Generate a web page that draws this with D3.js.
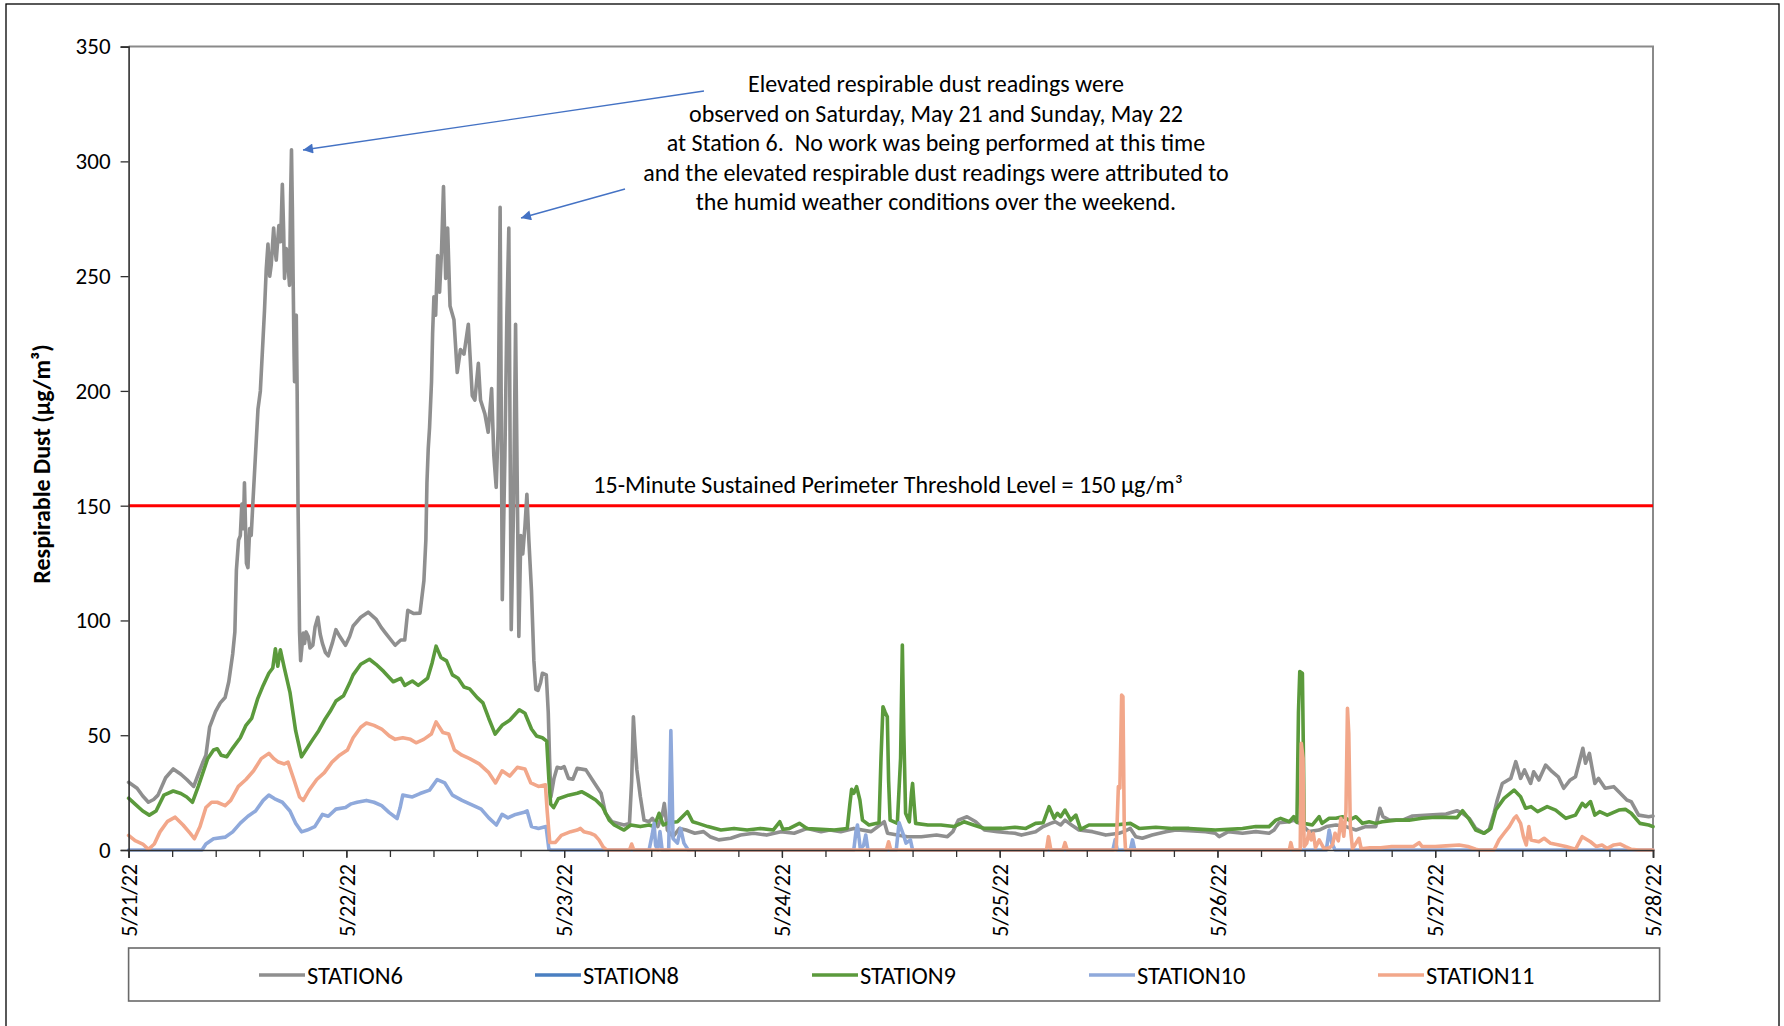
<!DOCTYPE html>
<html>
<head>
<meta charset="utf-8">
<script src="https://cdn.jsdelivr.net/npm/d3@7"></script>
<style>
  html, body { margin: 0; padding: 0; background: #fff; }
  svg { display: block; }
  text { font-family: Carlito, Lato, "Liberation Sans", sans-serif; fill: #000; white-space: pre; }
</style>
</head>
<body>
<svg id="chart" width="1784" height="1026"></svg>
<script>
// ---- DATA (time in days since 5/21/22 00:00, value in µg/m³) ----
const dayLabels = ["5/21/22","5/22/22","5/23/22","5/24/22","5/25/22","5/26/22","5/27/22","5/28/22"];
const yTicks = [0, 50, 100, 150, 200, 250, 300, 350];
const threshold = 150;
const seriesNames = ["STATION6","STATION8","STATION9","STATION10","STATION11"];
const seriesColors = ["#8f8f8f","#4a7fc1","#5b9a3c","#8fa9db","#f2a78a"];
const annotationLines = [
  "Elevated respirable dust readings were",
  "observed on Saturday, May 21 and Sunday, May 22",
  "at Station 6.  No work was being performed at this time",
  "and the elevated respirable dust readings were attributed to",
  "the humid weather conditions over the weekend."
];
const thresholdLabel = "15-Minute Sustained Perimeter Threshold Level = 150 µg/m³";
const yTitle = "Respirable Dust (µg/m³)";

const station6 = [[0,29.5],[0.039,26.9],[0.065,23.5],[0.091,20.8],[0.115,22],[0.135,23.9],[0.17,31.5],[0.205,35.3],[0.24,33],[0.267,30.7],[0.299,27.7],[0.32,33],[0.34,38],[0.355,41.3],[0.372,53.5],[0.399,60.3],[0.421,64.1],[0.443,66.4],[0.46,73.3],[0.478,85.4],[0.488,95],[0.495,121.9],[0.505,135],[0.513,137],[0.52,150.7],[0.527,140],[0.532,160],[0.541,125],[0.548,123],[0.556,140],[0.563,137],[0.57,150],[0.578,164],[0.594,192],[0.605,200],[0.617,222],[0.624,235],[0.632,253],[0.64,264],[0.648,250],[0.655,255],[0.666,271],[0.672,262],[0.678,257],[0.69,272],[0.698,265],[0.706,290],[0.712,270],[0.716,249],[0.724,262],[0.732,255],[0.739,246],[0.744,285],[0.748,305],[0.752,280],[0.755,253],[0.76,215],[0.762,204],[0.766,230],[0.77,233],[0.774,200],[0.778,151],[0.785,95],[0.79,82.5],[0.802,94.5],[0.808,90],[0.815,95],[0.825,93],[0.833,88],[0.846,89.2],[0.856,97],[0.869,101.4],[0.88,94],[0.89,90],[0.904,86],[0.917,84.6],[0.935,90],[0.952,96],[0.97,93],[0.996,89.2],[1.015,93],[1.031,97.6],[1.066,101.4],[1.1,103.6],[1.136,100.6],[1.16,97],[1.18,94.5],[1.224,89.2],[1.25,91.5],[1.268,91.5],[1.282,104.4],[1.31,103],[1.338,103.2],[1.356,117.3],[1.365,135],[1.37,160],[1.376,175],[1.382,184],[1.391,204],[1.396,225],[1.402,241],[1.41,233],[1.419,259],[1.428,243],[1.437,261],[1.446,289],[1.456,249],[1.465,271],[1.476,237],[1.494,231],[1.509,208],[1.524,218],[1.54,216],[1.56,229],[1.578,198],[1.59,196],[1.606,212],[1.616,196],[1.636,190],[1.651,182],[1.667,201],[1.677,172],[1.688,158],[1.697,184],[1.706,280],[1.716,109],[1.728,172],[1.737,233],[1.746,271],[1.757,96],[1.768,151],[1.777,229],[1.792,93],[1.801,137],[1.81,129],[1.82,141],[1.829,155],[1.838,135],[1.85,113],[1.861,82.5],[1.87,70],[1.88,69.5],[1.892,73],[1.9,77],[1.918,76.3],[1.927,60],[1.933,40],[1.939,23.1],[1.953,31],[1.968,36],[1.985,35.6],[2.0,36.3],[2.02,31.2],[2.04,30.8],[2.06,35.6],[2.1,34.9],[2.13,30.5],[2.17,24.7],[2.19,16],[2.22,12.3],[2.275,10.9],[2.30,11.6],[2.31,30],[2.318,58],[2.326,45],[2.334,34.9],[2.35,23.2],[2.367,13],[2.39,12.3],[2.405,13.8],[2.43,10.2],[2.45,15],[2.46,20.3],[2.474,8.7],[2.5,5.8],[2.53,9.4],[2.56,8.7],[2.6,7.3],[2.64,8],[2.67,5.8],[2.71,4.4],[2.765,5.1],[2.81,6.5],[2.87,7.3],[2.93,6.5],[2.995,8],[3.056,7.3],[3.117,9.4],[3.18,8],[3.22,8.7],[3.27,8],[3.33,9.4],[3.41,8],[3.47,12.3],[3.485,7.3],[3.53,6.5],[3.576,5.8],[3.64,5.8],[3.71,6.5],[3.76,5.8],[3.785,8],[3.81,13],[3.85,14.5],[3.89,12.3],[3.93,8.7],[3.99,8],[4.04,7.5],[4.07,7.3],[4.1,6.5],[4.165,8],[4.2,10.2],[4.234,11.6],[4.255,12.3],[4.28,10.9],[4.3,13],[4.33,10.9],[4.364,8.7],[4.426,8],[4.487,6.5],[4.548,7.3],[4.57,8],[4.6,9.4],[4.625,5.8],[4.655,5.1],[4.7,6.5],[4.763,8],[4.81,8.7],[4.87,8.4],[4.946,8],[4.99,7.3],[5.008,5.8],[5.05,8],[5.115,7.3],[5.176,8],[5.237,7.3],[5.26,8.7],[5.283,11.9],[5.33,12.3],[5.35,13],[5.39,10.9],[5.42,8],[5.467,8.7],[5.5,10.2],[5.544,10.9],[5.59,10.2],[5.636,8.7],[5.68,10.2],[5.727,10.2],[5.746,18.2],[5.76,14.5],[5.79,13],[5.85,13],[5.896,14.8],[5.97,15.2],[6.05,15.7],[6.1,17.1],[6.125,16],[6.156,13.8],[6.186,9.4],[6.224,7.3],[6.247,8.7],[6.27,16],[6.285,21.8],[6.308,29],[6.347,31.2],[6.37,38.5],[6.392,31.2],[6.41,34.9],[6.438,29],[6.452,34.1],[6.476,30.5],[6.507,37],[6.537,34.1],[6.565,31.9],[6.59,26.9],[6.62,30.5],[6.644,31.9],[6.678,44.3],[6.69,37.8],[6.708,42.1],[6.733,29],[6.75,31.2],[6.78,26.9],[6.82,27.6],[6.843,25.4],[6.88,21.8],[6.9,21.1],[6.934,15.2],[6.98,14.5],[7.0,14.8]];

const station8 = [];

const station9 = [[0,22.6],[0.03,20],[0.065,17],[0.095,15.2],[0.126,17],[0.162,23.9],[0.205,25.7],[0.24,24.6],[0.267,23.1],[0.293,20.8],[0.32,27.7],[0.363,39.8],[0.39,43.6],[0.407,44.1],[0.425,41.3],[0.451,40.6],[0.478,44.4],[0.513,48.9],[0.539,54.3],[0.565,57.3],[0.592,65.7],[0.618,71.7],[0.644,77],[0.662,79.3],[0.674,87.7],[0.685,80.1],[0.697,87.2],[0.715,79.3],[0.741,68.7],[0.767,52],[0.794,40.6],[0.82,44.4],[0.846,48.2],[0.873,52],[0.899,56.5],[0.925,60.3],[0.952,64.9],[0.987,67.2],[1.014,72.5],[1.031,76.3],[1.066,80.9],[1.106,83.1],[1.136,80.9],[1.171,77.8],[1.215,73.3],[1.25,74.8],[1.268,71.7],[1.303,73.6],[1.33,71.7],[1.373,74.8],[1.394,81.6],[1.412,88.8],[1.434,83.9],[1.46,82.4],[1.487,76.3],[1.513,74.8],[1.54,71],[1.566,70.2],[1.601,66.4],[1.627,64.1],[1.654,57.3],[1.683,50.5],[1.715,54.3],[1.75,56.5],[1.794,61.1],[1.82,59.6],[1.85,52.7],[1.873,49.7],[1.9,48.9],[1.92,47.4],[1.93,30.7],[1.938,20],[1.952,18.5],[1.973,22.3],[2.02,23.9],[2.06,24.7],[2.08,25.4],[2.107,24],[2.145,21.8],[2.176,18.9],[2.207,13],[2.23,10.9],[2.275,8.7],[2.306,10.9],[2.35,10.2],[2.39,10.9],[2.413,10.2],[2.436,16],[2.455,10.9],[2.48,11.9],[2.52,12.3],[2.566,16.7],[2.59,12.3],[2.615,11.6],[2.66,10.2],[2.72,8.7],[2.78,9.4],[2.84,8.7],[2.9,9.4],[2.96,8.7],[2.99,12.3],[3.005,9],[3.035,9.4],[3.08,11.6],[3.115,9.4],[3.18,9],[3.24,8.7],[3.3,9.4],[3.312,20],[3.32,26.4],[3.33,24.7],[3.343,27.6],[3.358,21.8],[3.37,13],[3.4,10.9],[3.446,11.9],[3.455,40],[3.464,62.4],[3.474,60],[3.484,58],[3.49,30],[3.497,13],[3.53,11.6],[3.545,40],[3.553,89.3],[3.56,50],[3.568,16],[3.585,12.3],[3.595,25],[3.6,29],[3.607,20],[3.614,11.6],[3.67,10.9],[3.73,10.9],[3.79,10.2],[3.836,12.3],[3.88,10.9],[3.93,9.4],[4.01,9.4],[4.07,9.9],[4.12,9.4],[4.165,11.6],[4.2,11.9],[4.227,18.9],[4.25,13.8],[4.265,16],[4.28,14.5],[4.3,17.4],[4.326,13],[4.35,15.2],[4.372,9],[4.41,10.9],[4.47,10.9],[4.53,10.9],[4.6,11.6],[4.64,9.4],[4.717,9.9],[4.793,9.4],[4.87,9.4],[4.93,9],[4.99,8.7],[5.05,9],[5.115,9.4],[5.176,10.2],[5.237,10.2],[5.268,13],[5.29,13.8],[5.33,12.3],[5.35,14.5],[5.365,12],[5.372,60],[5.378,77.7],[5.39,77],[5.395,40],[5.398,11.6],[5.436,10.9],[5.467,14.5],[5.48,11.6],[5.513,13.8],[5.544,13.8],[5.574,14.5],[5.605,13],[5.636,14.5],[5.666,11.6],[5.697,12.3],[5.727,11.6],[5.757,12.3],[5.82,13],[5.88,13],[5.94,13.8],[6.0,14.3],[6.05,14.2],[6.1,14.1],[6.125,17.1],[6.153,13.8],[6.186,8.7],[6.224,7.3],[6.255,9.4],[6.278,17.4],[6.316,22.5],[6.362,26.1],[6.392,23.2],[6.415,18.2],[6.44,18.9],[6.47,16.7],[6.514,18.9],[6.553,17.4],[6.6,13.8],[6.644,15.2],[6.675,20.3],[6.69,18.9],[6.713,21.1],[6.733,15.2],[6.755,16.7],[6.79,15.2],[6.843,17.4],[6.873,17.7],[6.9,16],[6.94,11.6],[6.98,10.9],[7.0,10.2]];

const station10 = [[0,0],[0.337,0],[0.355,2.6],[0.39,4.9],[0.443,5.6],[0.478,7.9],[0.513,11.7],[0.548,14.7],[0.583,17],[0.618,21.6],[0.644,23.9],[0.671,22.3],[0.706,20.8],[0.741,17],[0.767,11.7],[0.794,7.9],[0.82,8.7],[0.855,10.2],[0.89,15.5],[0.917,14.7],[0.952,17.8],[0.996,18.5],[1.022,20.1],[1.049,20.8],[1.092,21.6],[1.127,20.8],[1.162,19.3],[1.197,16.3],[1.233,13.7],[1.247,18.5],[1.259,23.9],[1.303,23.1],[1.338,24.6],[1.382,26.1],[1.417,30.7],[1.452,29.2],[1.487,23.9],[1.531,21.6],[1.584,19.3],[1.619,17.8],[1.654,14],[1.689,10.9],[1.715,15.5],[1.742,14],[1.777,15.5],[1.812,16.3],[1.83,17],[1.85,10.2],[1.882,9.4],[1.917,10.2],[1.93,0.3],[1.94,0],[2.39,0],[2.405,7],[2.413,11.6],[2.42,2],[2.43,0],[2.44,8],[2.45,0],[2.48,0],[2.486,30],[2.49,52],[2.495,30],[2.5,5],[2.52,3],[2.535,9.4],[2.55,3],[2.57,0],[3.33,0],[3.34,8],[3.347,10.9],[3.36,0.5],[3.375,2],[3.385,6.5],[3.395,0],[3.525,0],[3.538,11.9],[3.545,10],[3.56,6],[3.57,3],[3.59,4.4],[3.6,0],[4.52,0],[4.53,4.4],[4.54,0],[4.6,0],[4.61,4.4],[4.62,0],[5.5,0],[5.513,8.7],[5.525,3],[5.54,0],[7.0,0]];

const station11 = [[0,6.4],[0.03,4.1],[0.065,2.6],[0.091,0.3],[0.118,2.6],[0.144,7.9],[0.179,12.5],[0.214,14.3],[0.25,10.9],[0.284,7.1],[0.302,4.9],[0.328,10.2],[0.355,18.5],[0.381,20.8],[0.407,20.8],[0.443,19.3],[0.469,21.6],[0.504,27.7],[0.539,30.7],[0.574,34.5],[0.609,39.8],[0.644,42.1],[0.667,39.8],[0.688,38.3],[0.715,37.5],[0.732,38.3],[0.759,30.7],[0.785,23.1],[0.802,21.6],[0.829,26.1],[0.864,30.7],[0.899,33.7],[0.934,38.3],[0.969,41.3],[1.005,43.6],[1.031,48.9],[1.066,53.5],[1.092,55.3],[1.127,54.3],[1.162,52.7],[1.197,49.7],[1.224,48.2],[1.259,48.9],[1.294,48.2],[1.32,46.7],[1.355,48.2],[1.39,50.5],[1.412,55.8],[1.443,51.2],[1.47,50.5],[1.496,43.6],[1.531,41.3],[1.566,39.8],[1.61,37.5],[1.654,33.7],[1.685,29.2],[1.715,34.5],[1.75,32.2],[1.785,36],[1.82,35.3],[1.847,29.2],[1.882,27.7],[1.914,28.4],[1.922,17],[1.934,3.3],[1.96,3.3],[1.987,6.4],[2.03,8],[2.06,8.7],[2.075,9.4],[2.09,8],[2.12,7.3],[2.14,6.5],[2.16,4.4],[2.18,1.2],[2.195,0],[2.3,0],[2.31,2.6],[2.32,0],[3.48,0],[3.49,3.6],[3.5,0],[4.215,0],[4.224,5.8],[4.235,0],[4.29,0],[4.3,3.2],[4.31,0],[4.535,0],[4.545,27.6],[4.552,27],[4.56,67.5],[4.566,66.8],[4.572,10],[4.578,0],[5.33,0],[5.337,3.2],[5.345,0],[5.38,0],[5.385,46.5],[5.393,40],[5.398,1.5],[5.41,3],[5.42,8],[5.43,4.4],[5.44,7.3],[5.45,1],[5.467,4.4],[5.49,0.5],[5.515,1],[5.528,2.2],[5.54,7.3],[5.555,4],[5.567,13.8],[5.58,6],[5.59,16.7],[5.597,61.7],[5.603,50.8],[5.61,10.2],[5.62,0.5],[5.65,5.1],[5.66,0.5],[5.7,1],[5.75,1],[5.8,1.5],[5.9,1.5],[5.926,3.2],[5.94,1.5],[6.0,1.5],[6.05,1.8],[6.11,2.2],[6.15,1.5],[6.186,0.3],[6.2,0],[6.27,0],[6.293,4.4],[6.316,7.3],[6.34,10.2],[6.362,13.8],[6.373,14.8],[6.392,11.6],[6.405,5.8],[6.418,2.2],[6.43,10.2],[6.44,4.4],[6.476,3.6],[6.5,5.1],[6.53,2.9],[6.568,2.2],[6.6,1.5],[6.644,0.3],[6.675,5.8],[6.713,3.6],[6.74,1.5],[6.766,2.2],[6.79,0.7],[6.82,2.2],[6.85,2.6],[6.873,1.5],[6.9,0.3],[6.934,0],[7.0,0]];

const allSeries = [station6, station8, station9, station10, station11];

// ---- LAYOUT ----
const plot = { left: 128.6, right: 1653, top: 46.6, bottom: 850 };
const svg = d3.select("#chart");

// outer frame
svg.append("rect").attr("x", 6).attr("y", 4).attr("width", 1773).attr("height", 1040)
  .attr("fill", "none").attr("stroke", "#000").attr("stroke-width", 1.3);

const x = d3.scaleLinear().domain([0, dayLabels.length - 1]).range([plot.left, plot.right]);
const y = d3.scaleLinear().domain([0, 350]).range([plot.bottom, plot.top]);

// plot border (top + right, grey)
svg.append("path")
  .attr("d", `M${plot.left},${plot.top}H${plot.right}V${plot.bottom}`)
  .attr("fill", "none").attr("stroke", "#8a8a8a").attr("stroke-width", 2);

// threshold line
svg.append("line")
  .attr("x1", plot.left).attr("x2", plot.right)
  .attr("y1", y(threshold)).attr("y2", y(threshold))
  .attr("stroke", "#ff0000").attr("stroke-width", 3);

// series lines
const line = d3.line().x(d => x(d[0])).y(d => y(d[1]));
allSeries.forEach((s, i) => {
  if (!s.length) return;
  svg.append("path").datum(s)
    .attr("d", line)
    .attr("fill", "none")
    .attr("stroke", seriesColors[i])
    .attr("stroke-width", 3.6)
    .attr("stroke-linejoin", "round")
    .attr("stroke-linecap", "round");
});

// Y axis
const yAxis = d3.axisLeft(y).tickValues(yTicks).tickSize(8).tickPadding(10).tickFormat(d3.format("d"));
const gy = svg.append("g").attr("transform", `translate(${plot.left},0)`).call(yAxis);
gy.select(".domain").attr("stroke", "#303030").attr("stroke-width", 1.6);
gy.selectAll(".tick line").attr("stroke", "#303030").attr("stroke-width", 1.3);
gy.selectAll(".tick text").style("font-size", "23px").attr("fill", "#000");

// X axis minor ticks
const minor = d3.range(0, 7.0001, 0.2);
const xMinor = d3.axisBottom(x).tickValues(minor).tickSize(7).tickFormat("");
const gxm = svg.append("g").attr("transform", `translate(0,${plot.bottom})`).call(xMinor);
gxm.select(".domain").remove();
gxm.selectAll(".tick line").attr("stroke", "#303030").attr("stroke-width", 1.3);

// X axis major
const xAxis = d3.axisBottom(x).tickValues(d3.range(dayLabels.length)).tickSize(8)
  .tickFormat(i => dayLabels[i]);
const gx = svg.append("g").attr("transform", `translate(0,${plot.bottom})`).call(xAxis);
gx.select(".domain").attr("stroke", "#303030").attr("stroke-width", 1.6);
gx.selectAll(".tick line").attr("stroke", "#303030").attr("stroke-width", 1.3);
gx.selectAll(".tick text")
  .style("font-size", "22px")
  .attr("text-anchor", "end")
  .attr("transform", "rotate(-90)")
  .attr("x", -14).attr("y", 0).attr("dy", "0.35em");

// Y title
svg.append("text")
  .attr("transform", `translate(42,464) rotate(-90)`)
  .attr("text-anchor", "middle").attr("dy", "0.35em")
  .style("font-size", "24px").style("font-weight", "bold")
  .text(yTitle);

// threshold label
svg.append("text")
  .attr("x", 888).attr("y", 493)
  .attr("text-anchor", "middle")
  .style("font-size", "24px")
  .text(thresholdLabel);

// annotation
const ann = svg.append("text").attr("text-anchor", "middle").style("font-size", "24px");
annotationLines.forEach((t, i) => {
  ann.append("tspan").attr("x", 936).attr("y", 92 + i * 29.6).text(t);
});

// arrows
const defs = svg.append("defs");
defs.append("marker").attr("id", "arrowhead")
  .attr("viewBox", "0 0 10 10").attr("refX", 10).attr("refY", 5)
  .attr("markerWidth", 14).attr("markerHeight", 10).attr("markerUnits", "userSpaceOnUse")
  .attr("orient", "auto")
  .append("path").attr("d", "M0,0L10,5L0,10Z").attr("fill", "#4472c4");
const arrows = [
  { from: [704, 91], to: [303, 150] },
  { from: [625, 189], to: [521, 218] }
];
arrows.forEach(a => {
  svg.append("line")
    .attr("x1", a.from[0]).attr("y1", a.from[1])
    .attr("x2", a.to[0]).attr("y2", a.to[1])
    .attr("stroke", "#4472c4").attr("stroke-width", 1.3)
    .attr("marker-end", "url(#arrowhead)");
});

// legend
svg.append("rect").attr("x", 128.6).attr("y", 948).attr("width", 1531).attr("height", 53)
  .attr("fill", "#fff").attr("stroke", "#6a6a6a").attr("stroke-width", 1.6);
const legendX = [259, 535, 812, 1089, 1378];
seriesNames.forEach((n, i) => {
  const g = svg.append("g").attr("transform", `translate(${legendX[i]},975)`);
  g.append("line").attr("x1", 0).attr("x2", 46).attr("y1", 0).attr("y2", 0)
    .attr("stroke", seriesColors[i]).attr("stroke-width", 3.6);
  g.append("text").attr("x", 48).attr("dy", "0.35em").style("font-size", "24.5px").text(n);
});
</script>
</body>
</html>
